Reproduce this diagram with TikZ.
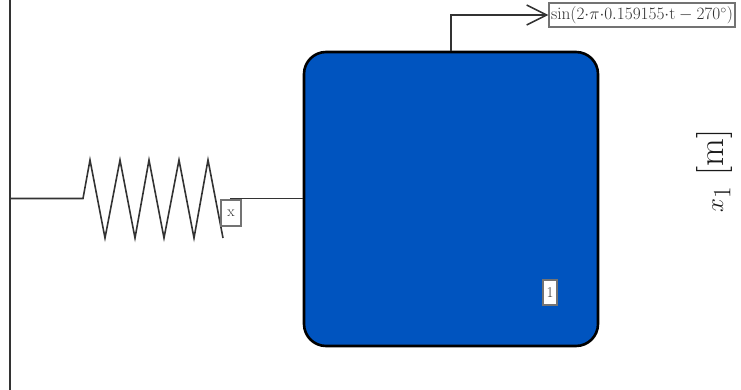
\documentclass[tikz,border=0pt]{standalone}
\usepackage{mathtools,amssymb}
\usepackage{tikz}
\usetikzlibrary{arrows.meta}
\usetikzlibrary{calc}

\definecolor{massblue}{HTML}{0054BF}
\tikzset{
	link/.style={draw=black!80, line width=1.6pt},
	output/.style={link, -{Straight Barb[length=20pt,width=20pt,line width=1.6pt]}},
	tag/.style={draw=black!55, line width=1.1pt, fill=white, inner sep=0pt, text=black!80, align=center},
}

\begin{document}
\begin{tikzpicture}[x=1pt, y=-1pt]
\useasboundingbox (0,0) rectangle (741,390);
\node (m) [draw=black, line width=2.6pt, fill=massblue, rounded corners=22pt, minimum width=294pt, minimum height=294pt, inner sep=0pt] at (451,199) {};
\coordinate (w-t) at (10,0);
\coordinate (w-b) at (10,390);
\coordinate (w-a) at (10,198.5);
\coordinate (s-in) at (83,198.5);
\coordinate (s-out) at (230,198.5);
\coordinate (m-a) at (m.west |- s-out);
\coordinate (o-c) at (451,15);
\draw[black!80, line width=2.6pt] (w-t) -- (w-b);
\path[link] (w-a) -- (s-in)
	-- (90,160) -- (105,238) -- (120,160) -- (135,238) -- (149,160)
	-- (164,238) -- (179,160) -- (194,238) -- (208,160) -- (223,238);
\path[link] (s-out) -- (m-a);
\node (x) [tag, minimum width=20pt, minimum height=26pt, font=\fontsize{15}{16}\selectfont] at (231,213) {x};
\node (n) [tag, minimum width=14pt, minimum height=25pt, font=\fontsize{15}{16}\selectfont] at (550,292.5) {1};
\node (o) [tag, minimum width=186pt, minimum height=24pt, font=\fontsize{17}{18}\selectfont] at (642,15) {$\mathrm{sin}(2{\cdot}\pi{\cdot}0.159155{\cdot}\mathrm{t}-270^{\circ})$};
\path[output] (m.north) -- (o-c) -- (o.west);
\node (y) [rotate=90, font=\fontsize{36}{40}\selectfont, text=black!90] at (714,171) {$x_1$ [m]};
\end{tikzpicture}
\end{document}
